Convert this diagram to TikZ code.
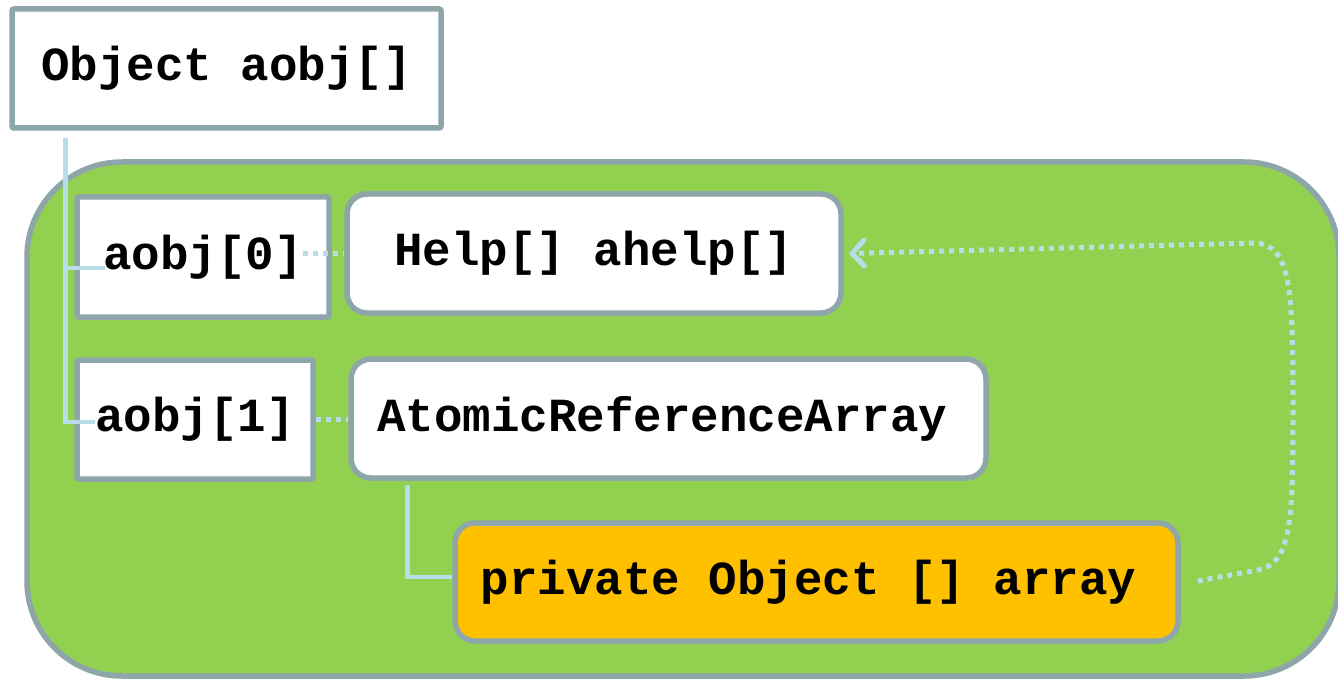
\documentclass[tikz,border=0pt]{standalone}
\usepackage{fontspec}
\setmonofont{Liberation Mono}
\usetikzlibrary{arrows.meta,calc}
\definecolor{edgegrey}{HTML}{8EA5AA}
\definecolor{panelgreen}{HTML}{92D050}
\definecolor{fieldorange}{HTML}{FFC000}
\definecolor{linkblue}{HTML}{B7DDE8}
\begin{document}
\begin{tikzpicture}[x=1pt,y=-1pt,
  font=\fontsize{47.5}{52}\selectfont\ttfamily\bfseries,
  box/.style={draw=edgegrey,line width=5.5pt,fill=white,inner sep=0pt,anchor=center},
  sqbox/.style={box,rounded corners=2pt},
  rbox/.style={box,rounded corners=20pt},
  tree/.style={draw=linkblue,line width=4.5pt},
  dots/.style={draw=linkblue,line width=5pt,dash pattern=on 5pt off 5pt},
]
\useasboundingbox (0,0) rectangle (1338,679);

% green panel holding the array slots
\draw[edgegrey,line width=5.5pt,fill=panelgreen,rounded corners=95pt]
  (27,162) rectangle (1339,676);

% array reference and its slots
\node[sqbox,minimum width=429pt,minimum height=119pt] (obj) at (226.5,68.5) {Object aobj[]};
\node[sqbox,minimum width=252pt,minimum height=120pt] (a0) at (203,257) {aobj[0]};
\node[sqbox,minimum width=236pt,minimum height=119pt] (a1) at (195,419.5) {aobj[1]};

% objects referenced by the slots
\node[rbox,minimum width=494pt,minimum height=119pt] (help) at (594,253.5) {Help[] ahelp[]};
\node[rbox,minimum width=635pt,minimum height=119pt] (ar) at (668.5,418.5) {\hspace*{-12pt}AtomicReferenceArray};
\node[rbox,fill=fieldorange,minimum width=723pt,minimum height=118pt] (pa) at (816.5,582) {\hspace*{-16pt}private Object [] array};

% tree lines from the array to its slots
\coordinate (t0) at ($(obj.south west)+(56,7)$);
\coordinate (a0e) at ($(a0.west)+(31,11)$);
\coordinate (a1e) at ($(a1.west)+(21,2.5)$);
\draw[tree] (t0) |- (a1e);
\draw[tree] (t0 |- a0e) -- (a0e);

% field of AtomicReferenceArray
\draw[tree] ($(ar.south west)+(59,4)$) |- ($(pa.west)+(0,-5)$);

% slot contents
\coordinate (a0t) at ($(a0.east)+(-29,-4)$);
\draw[dots] (a0t) -- (help.west |- a0t);
\draw[dots] (a1.east) -- (ar.west |- a1.east);

% the internal array points back to the Help[] array
\coordinate (pe) at ($(pa.east)+(17,-1)$);
\coordinate (c1) at (1258,570);
\coordinate (c2) at (1256,243);
\draw[dots,-{Straight Barb[length=12pt,width=26pt,line cap=round]}]
  (pe) -- (c1)
  .. controls (1292,563) and (1293,520) .. (1293,405)
  .. controls (1293,285) and (1290,246) .. (c2)
  -- ($(help.east)+(5,0)$);
\end{tikzpicture}
\end{document}
